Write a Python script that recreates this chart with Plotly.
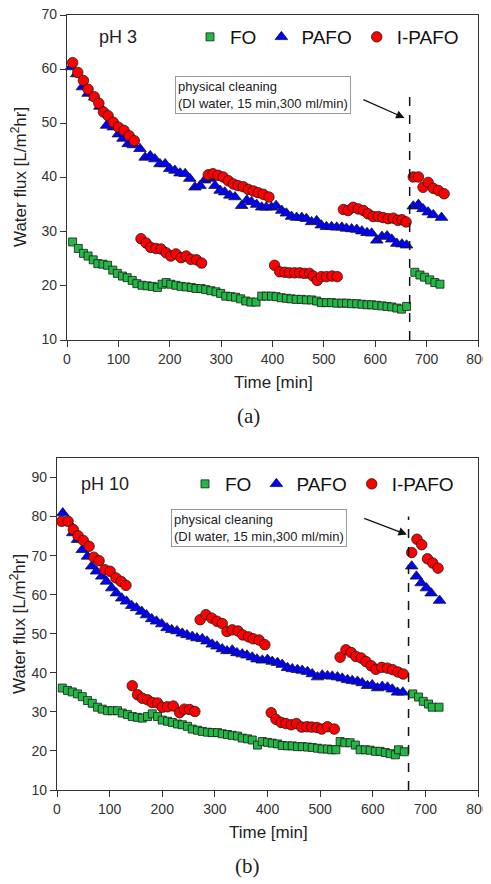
import plotly.graph_objects as go

# ---- pH 3 ----
fo3_t = [11, 22, 32, 41, 51, 60, 70, 79, 89, 98, 108, 117, 127, 136, 146, 156, 166, 176, 185, 193,
         202, 212, 222, 232, 242, 251, 261, 270, 280, 290, 299, 309, 319, 328, 338, 348, 358, 368,
         379, 388, 398, 407, 417, 427, 436, 446, 456, 466, 476, 486, 495, 505, 515, 525, 535, 544,
         554, 564, 574, 584, 593, 603, 613, 623, 632, 642, 651, 661,
         677, 687, 696, 706, 716, 726]
fo3_v = [28.1, 26.9, 26.0, 25.5, 24.8, 24.1, 24.0, 23.8, 22.9, 22.3, 21.8, 21.5, 21.0, 20.4, 20.1, 20.0,
         19.9, 19.7, 20.3, 20.6, 20.3, 20.1, 19.9, 19.8, 19.7, 19.5, 19.5, 19.3, 19.1, 18.9, 18.6, 18.1,
         18.0, 17.9, 17.6, 17.2, 17.0, 17.0, 18.1, 18.1, 18.1, 18.0, 17.8, 17.7, 17.6, 17.5, 17.5, 17.4,
         17.4, 17.2, 16.9, 16.9, 16.9, 16.8, 16.8, 16.8, 16.7, 16.7, 16.6, 16.5, 16.5, 16.4, 16.3, 16.2,
         16.1, 15.9, 15.7, 16.2,
         22.5, 22.0, 21.6, 21.1, 20.6, 20.3]

pafo3_t = [8, 19, 30, 41, 54, 64, 77, 90, 100, 109, 119, 129, 142, 152, 162, 171, 181, 191, 200, 210,
           220, 230, 239, 249, 259, 268, 278, 288, 298, 307, 317, 327, 340, 350, 359, 369, 379, 388,
           398, 407, 418, 427, 437, 447, 457, 466, 476, 486, 495, 505, 515, 525, 535, 544, 554, 564,
           574, 584, 593, 603, 613, 623, 632, 642, 652, 661,
           674, 684, 693, 703, 713, 729]
pafo3_v = [60.4, 59.1, 56.7, 55.5, 54.8, 53.1, 49.6, 49.3, 48.0, 47.2, 46.2, 46.0, 45.3, 43.7, 44.0,
           43.4, 42.5, 42.5, 41.6, 41.3, 40.8, 40.7, 39.8, 38.2, 38.5, 39.5, 39.8, 38.5, 37.6, 37.3,
           36.7, 36.4, 34.8, 35.8, 35.5, 35.0, 34.5, 34.5, 34.5, 34.8, 33.9, 33.4, 32.8, 32.6, 32.6,
           32.4, 31.8, 32.0, 31.2, 30.9, 30.9, 30.8, 30.8, 30.6, 30.5, 30.4, 30.1, 29.8, 29.7, 28.4,
           29.1, 29.2, 28.6, 27.8, 27.7, 27.5,
           34.7, 35.0, 34.2, 33.6, 33.1, 32.6]

ipafo3_t = [11, 21, 32, 41, 53, 62, 71, 80, 90, 100, 111, 121, 131,
            144, 154, 163, 173, 183, 193, 202, 212, 222, 232, 241, 252, 262,
            275, 284, 294, 304, 314, 324, 333, 343, 353, 363, 372, 382, 393,
            404, 414, 424, 433, 443, 453, 462, 472, 479, 487, 495, 505, 516, 526,
            538, 547, 557, 567, 577, 586, 596, 606, 615, 625, 635, 644, 652, 660,
            674, 684, 693, 703, 713, 723, 734]
ipafo3_v = [61.2, 59.4, 57.9, 56.3, 54.9, 53.7, 52.1, 51.4, 50.2, 49.3, 48.7, 47.7, 46.8,
            28.7, 27.9, 27.1, 26.9, 26.8, 26.1, 25.5, 25.9, 25.2, 25.5, 24.9, 24.8, 24.2,
            40.5, 40.7, 40.4, 40.1, 39.4, 38.8, 38.5, 38.3, 37.8, 37.5, 37.2, 36.9, 36.4,
            23.8, 22.6, 22.5, 22.4, 22.4, 22.4, 22.3, 22.3, 21.8, 21.0, 21.7, 21.7, 21.8, 21.7,
            34.1, 33.9, 34.5, 34.2, 33.9, 33.3, 32.8, 32.8, 32.6, 32.4, 32.5, 32.1, 32.2, 31.8,
            40.1, 40.1, 38.2, 39.1, 38.0, 37.6, 37.0]

# ---- pH 10 ----
fo10_t = [10, 20, 29, 39, 48, 58, 67, 77, 86, 96, 105, 115, 124, 134, 143, 153, 162, 172, 181, 191,
          200, 210, 219, 229, 238, 248, 257, 267, 276, 286, 295, 305, 314, 324, 333, 343, 352, 362,
          371, 381, 390, 400, 409, 419, 428, 438, 447, 457, 466, 476, 485, 495, 504, 514, 522, 530,
          538, 547, 557, 567, 576, 586, 595, 605, 614, 624, 633, 643, 649, 660,
          676, 687, 696, 706, 713, 726]
fo10_v = [36.1, 35.5, 35.1, 34.6, 33.9, 32.9, 32.2, 31.2, 30.7, 30.3, 30.3, 30.3, 29.7, 29.3, 28.8,
          28.6, 28.4, 28.8, 29.5, 28.8, 27.9, 27.6, 27.3, 26.9, 26.7, 26.3, 25.6, 25.3, 25.0, 24.8,
          24.7, 24.7, 24.4, 24.2, 24.0, 23.8, 23.3, 23.1, 22.8, 21.5, 22.4, 22.2, 22.0, 21.8, 21.4,
          21.3, 21.3, 21.1, 21.1, 21.0, 20.9, 20.7, 20.5, 20.5, 20.3, 20.3, 22.4, 22.1, 22.1, 21.5,
          20.3, 20.3, 20.2, 19.9, 19.9, 19.6, 19.3, 19.0, 20.3, 19.8,
          34.6, 33.8, 32.7, 32.0, 31.2, 31.2]

pafo10_t = [11, 22, 30, 39, 48, 58, 66, 75, 85, 94, 104, 113, 123, 132, 142, 151, 161, 170, 180, 189,
            199, 209, 218, 228, 238, 247, 257, 266, 276, 285, 295, 304, 314, 323, 333, 342, 352, 361,
            371, 380, 390, 400, 409, 419, 428, 438, 447, 457, 466, 476, 485, 495, 504, 514, 523, 533,
            542, 552, 561, 571, 580, 590, 599, 609, 618, 628, 637, 647, 657,
            674, 683, 692, 702, 711, 727]
pafo10_v = [80.9, 78.4, 75.8, 74.1, 71.5, 69.8, 67.3, 66.0, 64.7, 63.4, 61.7, 60.4, 59.1, 58.3, 57.2,
            56.6, 55.7, 54.8, 53.8, 53.2, 52.5, 51.5, 51.0, 50.7, 50.1, 49.7, 49.3, 48.9, 48.7, 48.1,
            47.3, 46.8, 46.1, 45.6, 45.8, 45.1, 44.8, 44.5, 44.0, 43.5, 43.2, 43.4, 42.9, 42.6, 42.1,
            41.3, 41.0, 40.8, 40.6, 40.3, 39.7, 38.9, 39.4, 39.2, 39.1, 38.9, 38.6, 38.2, 38.0, 37.8,
            37.4, 36.7, 36.9, 36.1, 36.5, 36.3, 35.8, 35.0, 35.0,
            67.3, 64.7, 63.0, 61.7, 60.4, 58.5]

ipafo10_t = [9, 21, 31, 40, 50, 61, 70, 80, 91, 101, 112, 122, 131,
             143, 153, 162, 172, 181, 191, 200, 210, 221, 233, 242, 252, 262,
             272, 283, 294, 304, 314, 323, 333, 344, 353, 364, 373, 384, 395,
             407, 416, 426, 435, 445, 455, 465, 475, 484, 494, 503, 514, 527,
             538, 549, 559, 568, 578, 587, 597, 606, 617, 628, 638, 648, 658,
             674, 684, 693, 704, 714, 724]
ipafo10_v = [78.8, 78.8, 76.7, 75.1, 73.9, 72.4, 69.6, 68.7, 66.4, 66.0, 64.3, 63.4, 62.4,
             36.7, 34.4, 33.5, 33.1, 32.4, 32.3, 31.2, 31.3, 31.5, 29.8, 30.7, 30.6, 30.1,
             53.6, 54.9, 54.0, 53.2, 52.6, 50.6, 51.0, 50.7, 49.7, 49.2, 48.7, 48.4, 47.2,
             29.8, 28.1, 27.3, 27.0, 26.7, 27.0, 26.1, 26.2, 26.1, 26.0, 25.6, 26.2, 25.6,
             44.0, 45.9, 45.2, 44.2, 43.8, 42.9, 41.8, 40.9, 41.4, 41.2, 40.8, 40.2, 39.7,
             70.8, 74.2, 72.8, 69.2, 68.1, 66.8]

cleaning_t = [667, 668]          # time of physical cleaning (pH 3, pH 10)
cleaning_top = [55, 80]          # top of dashed marker line
arrow_head = [(657, 51), (665, 75.4)]
arrow_tail = [(574, 54.5), (581, 79.7)]
cleaning_text = "physical cleaning<br>(DI water, 15 min,300 ml/min)"

# page body has an 8px margin, so the figure is drawn 8px in from the window corner
OFF = 8
W, H = 491 - OFF, 884 - OFF
GREEN = "#22b845"
FONT = "Arial, Liberation Sans, sans-serif"


def px_x(p):
    return (p - OFF) / W


def px_y(p):
    return 1 - (p - OFF) / H


fig = go.Figure()

panels = [
    ("", "", "legend", fo3_t, fo3_v, pafo3_t, pafo3_v, ipafo3_t, ipafo3_v),
    ("2", "2", "legend2", fo10_t, fo10_v, pafo10_t, pafo10_v, ipafo10_t, ipafo10_v),
]
for xs, ys, leg, ft, fv, pt, pv, it, iv in panels:
    common = dict(mode="markers", xaxis="x" + xs, yaxis="y" + ys, legend=leg, cliponaxis=False)
    fig.add_trace(go.Scatter(x=ft, y=fv, name="FO", marker=dict(
        symbol="square", size=8, color=GREEN, line=dict(color="#1a1a1a", width=0.8)), **common))
    fig.add_trace(go.Scatter(x=pt, y=pv, name="PAFO", marker=dict(
        symbol="triangle-up", size=11, color="#0000ff", line=dict(color="#1a1a1a", width=0.8)), **common))
    fig.add_trace(go.Scatter(x=it, y=iv, name="I-PAFO", marker=dict(
        symbol="circle", size=10.5, color="#ff0000", line=dict(color="#1a1a1a", width=0.8)), **common))

axis_common = dict(
    showgrid=False, zeroline=False, showline=True, mirror=True, linecolor="#333",
    linewidth=1.3, ticks="outside", ticklen=6, tickwidth=1.2, tickcolor="#333",
    tickfont=dict(family=FONT, size=14, color="#333"), automargin=False,
    ticklabeloverflow="allow",
)

legend_font = dict(family=FONT, size=19, color="#111")
fig.update_layout(
    width=W, height=H, margin=dict(l=0, r=0, t=0, b=0, autoexpand=False),
    paper_bgcolor="white", plot_bgcolor="white",
    font=dict(family=FONT, color="#222"),
    xaxis=dict(domain=[px_x(67), px_x(478)], range=[0, 800], dtick=100, anchor="y", **axis_common),
    yaxis=dict(domain=[px_y(340), px_y(15)], range=[10, 70], dtick=10, anchor="x",
               ticklabelshift=-1, **axis_common),
    xaxis2=dict(domain=[px_x(57), px_x(478)], range=[0, 800], dtick=100, anchor="y2", **axis_common),
    yaxis2=dict(domain=[px_y(790), px_y(458)], range=[10, 95], tick0=10, dtick=10, anchor="x2",
                **axis_common),
    legend=dict(orientation="h", x=px_x(190), y=px_y(37), xanchor="left", yanchor="middle",
                font=legend_font, bgcolor="rgba(0,0,0,0)"),
    legend2=dict(orientation="h", x=px_x(185), y=px_y(484), xanchor="left", yanchor="middle",
                 font=legend_font, bgcolor="rgba(0,0,0,0)"),
)

# cleaning line markers
for i, (xs, ys) in enumerate([("x", "y"), ("x2", "y2")]):
    fig.add_shape(type="line", xref=xs, yref=ys, x0=cleaning_t[i], x1=cleaning_t[i],
                  y0=10, y1=cleaning_top[i], line=dict(color="#111", width=1.5, dash="dash"))
    fig.add_annotation(xref=xs, yref=ys, axref=xs, ayref=ys, x=arrow_head[i][0], y=arrow_head[i][1],
                       ax=arrow_tail[i][0], ay=arrow_tail[i][1], text="", showarrow=True,
                       arrowhead=2, arrowsize=1.3, arrowwidth=1.3, arrowcolor="#111")

box_pos = [(175, 76), (171, 509)]
for bx, by in box_pos:
    fig.add_annotation(xref="paper", yref="paper", x=px_x(bx), y=px_y(by), xanchor="left",
                       yanchor="top", text=cleaning_text, align="left", showarrow=False,
                       font=dict(family=FONT, size=13, color="#222"),
                       bordercolor="#999", borderwidth=1, borderpad=2, bgcolor="white")

labels = [
    ("pH 3", 118, 37, 18, FONT, 0),
    ("pH 10", 105, 484, 18, FONT, 0),
    ("Time [min]", 273, 382, 17, FONT, 0),
    ("Time [min]", 268, 832, 17, FONT, 0),
    ("Water flux [L/m<sup>2</sup>hr]", 19, 177, 17, FONT, -90),
    ("Water flux [L/m<sup>2</sup>hr]", 18, 624, 17, FONT, -90),
    ("(a)", 248, 416, 21, "Liberation Serif, Times New Roman, serif", 0),
    ("(b)", 247, 866, 21, "Liberation Serif, Times New Roman, serif", 0),
]
for txt, lx, ly, size, fam, ang in labels:
    fig.add_annotation(xref="paper", yref="paper", x=px_x(lx), y=px_y(ly), text=txt,
                       showarrow=False, textangle=ang, xanchor="center", yanchor="middle",
                       font=dict(family=fam, size=size, color="#222"))

fig.write_html("out.html")
